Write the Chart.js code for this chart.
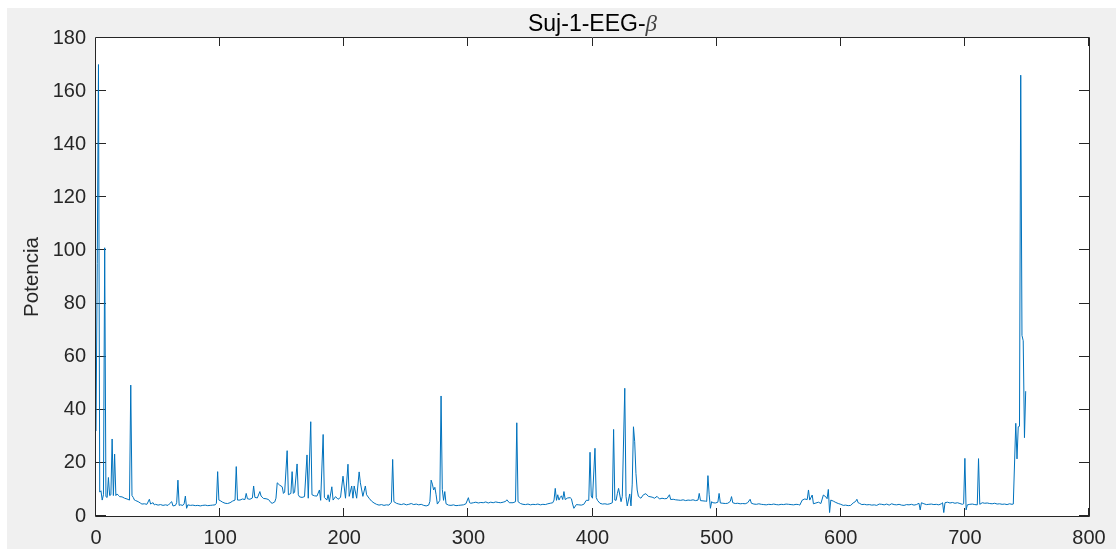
<!DOCTYPE html>
<html>
<head>
<meta charset="utf-8">
<script src="https://cdn.jsdelivr.net/npm/chart.js@4"></script>
<style>
html, body { margin: 0; padding: 0; background: #fff; }
#wrap { width: 1116px; height: 549px; }
</style>
</head>
<body>
<div id="wrap"><canvas id="chart" width="1116" height="549"></canvas></div>
<script>
// beta-band power per window, subject 1
const sampleIdx = [
	0, 1, 2, 3, 4, 5, 6, 7, 8, 9, 10, 11, 12, 13, 14, 15, 16, 17, 18, 19, 21, 23, 25, 27, 28, 29,
	30, 31, 32, 34, 36, 37, 39, 41, 43, 44, 45, 46, 47, 48, 50, 52, 54, 56, 58, 59, 61, 62, 64, 65,
	66, 67, 68, 70, 71, 72, 73, 74, 76, 78, 80, 82, 84, 86, 88, 90, 92, 94, 96, 97, 98, 99,
	100, 102, 104, 106, 108, 110, 112, 113, 114, 116, 118, 120, 121, 122, 124, 126, 127, 128, 130, 132, 133, 135, 137, 139,
	141, 142, 144, 145, 146, 148, 150, 151, 152, 154, 155, 157, 158, 159, 160, 162, 163, 164, 166, 168,
	170, 171, 173, 174, 176, 178, 180, 181, 183, 184, 186, 187, 188, 190, 191, 193, 195, 197, 199,
	201, 203, 204, 206, 207, 208, 210, 212, 213, 215, 217, 218, 220, 222, 224, 226, 228, 230, 232, 234, 236, 238, 239,
	240, 242, 244, 246, 248, 250, 252, 254, 256, 258, 260, 262, 264, 266, 268, 269,
	270, 271, 272, 273, 274, 275, 277, 278, 279, 280, 281, 282, 284, 286, 288, 290, 292, 294, 296, 298,
	300, 301, 302, 304, 306, 308, 310, 312, 314, 316, 318, 320, 322, 324, 326, 328, 330, 331, 333, 336, 338, 339,
	340, 342, 344, 346, 348, 350, 352, 354, 356, 358, 360, 362, 364, 366, 368, 369,
	370, 371, 372, 373, 374, 375, 376, 377, 378, 380, 382, 383, 384, 385, 387, 389, 391, 393, 395, 397, 398, 399,
	400, 402, 403, 404, 406, 408, 410, 412, 414, 416, 417, 418, 419, 420, 421, 423, 424, 426, 427, 428,
	430, 431, 432, 433, 434, 435, 436, 437, 439, 441, 443, 445, 448, 450, 452, 454, 456, 458, 460, 462, 463, 465, 467, 469,
	471, 473, 475, 477, 479, 481, 483, 485, 486, 487, 489, 491, 492, 493, 494, 495, 496, 497, 499,
	501, 502, 503, 505, 507, 509, 511, 512, 513, 515, 517, 519, 521, 523, 525, 527, 528,
	530, 532, 534, 536, 538, 540, 542, 544, 546, 548, 550, 552, 554, 556, 558, 560, 562, 564, 566, 567, 569,
	571, 573, 574, 575, 577, 578, 580, 582, 584, 586, 588, 589, 590, 591, 592, 594, 596, 598,
	600, 602, 604, 606, 608, 610, 612, 613, 614, 615, 617, 619, 621, 623, 625, 627, 629,
	631, 633, 635, 637, 639, 641, 643, 645, 647, 649, 651, 653, 655, 657, 659, 661, 663, 664, 665, 667, 669,
	671, 673, 675, 677, 679, 681, 682, 683, 684, 686, 688, 690, 692, 694, 696, 698, 699,
	700, 701, 702, 704, 706, 708, 710, 711, 712, 714, 716, 718, 720, 722, 724, 726, 728, 730, 732, 734, 736, 738, 739,
	741, 742, 743, 744, 745, 746, 747, 748, 749
];

const power = [
	32, 95, 170, 9, 9.5, 6, 8, 101, 7.3, 7, 14.5, 7.7, 8, 29, 7.7, 23.3, 7.7, 8.3, 7.8, 7.3, 7.2, 6.7, 6.4, 6, 49.3, 7.7,
	7, 6, 5.8, 5.4, 4.8, 4.5, 4.6, 4.4, 6.3, 4.5, 4.8, 5, 4.2, 4.4, 4.1, 4.3, 4, 4.2, 4, 4.5, 5.4, 3.8, 4, 5,
	13.5, 4, 4.2, 4, 4.6, 7.5, 2.9, 4.2, 4, 4.1, 3.9, 4, 3.8, 4, 4.1, 3.9, 4, 4.1, 4.2, 4.8, 16.7, 6,
	5.8, 5.2, 4.8, 4.7, 5, 5.6, 6, 18.6, 6, 6, 6.4, 6.2, 8.5, 6.5, 6.3, 6.8, 11.3, 7, 6.8, 9.2, 7.5, 6.6, 6.5, 6.2,
	5, 4.8, 5.3, 6.7, 12.5, 11.6, 11, 8.5, 9, 24.6, 8, 8.5, 16.7, 8.5, 9, 19.6, 8, 7.2, 7, 7.3,
	23, 6.7, 35.5, 8, 7.6, 7.5, 9.8, 5.9, 30.7, 7, 6, 8, 5.4, 11, 6, 7.3, 6.3, 7, 15,
	6.7, 19.5, 7.4, 11.3, 6.7, 11.3, 6.7, 16.6, 12.5, 7.4, 11.3, 8, 6.7, 5.6, 4.9, 4.4, 4.1, 4.3, 4, 4.2, 4.1, 5.2, 21.3,
	5.4, 4.8, 4.5, 4.3, 4.6, 4.2, 4.4, 4.7, 4.3, 4.5, 4.2, 4.4, 4, 3.8, 4.1, 5.5,
	13.5, 12, 9.8, 10.8, 8, 4.5, 5.9, 45.2, 10, 5.9, 9.2, 4.6, 4.1, 4, 4.2, 3.9, 4, 4.1, 4.2, 4.6,
	6.9, 5, 4.8, 5, 5.2, 4.9, 5.1, 5, 5.3, 4.9, 5.2, 5, 5.3, 5.1, 5, 5.2, 5.5, 6.1, 5, 5, 5.4, 35.1,
	5.4, 4.7, 4.4, 4.3, 4.5, 4.2, 4.4, 4.3, 4.5, 4.2, 4.4, 4.3, 4.6, 4.8, 5, 6,
	10.4, 5.9, 8, 6, 7, 7.6, 6.2, 9.2, 6.2, 6.8, 6.9, 6.5, 4.5, 2.9, 4.3, 4.2, 4.1, 4.4, 5.9, 5.9, 24, 7.5,
	6.7, 25.5, 7, 5.9, 4.8, 4.5, 4.6, 4.4, 4.6, 5, 32.6, 6, 5.9, 8.4, 10.4, 5.4, 7.4, 48.1, 7.4, 3.8,
	8.3, 3.8, 12, 33.6, 28, 16, 9.8, 7.4, 6.7, 8, 8.4, 7.4, 7.1, 6.7, 7.4, 6.4, 6.7, 6.5, 6.6, 8, 6.2, 6.3, 6.1, 6,
	5.9, 6.1, 5.8, 6, 5.9, 6.1, 5.8, 6, 8.5, 5.8, 5.7, 5.6, 5.5, 15.2, 8, 2.9, 5.4, 5, 4.9,
	5.2, 8.5, 4.9, 4.8, 4.7, 4.8, 5.5, 7.3, 5, 4.7, 4.8, 4.6, 4.7, 4.6, 5, 6.3, 4.8,
	4.5, 4.4, 4.6, 4.4, 4.3, 4.2, 4.4, 4.3, 4.5, 4.3, 4.2, 4.4, 4.3, 4.5, 4.4, 4.3, 4.2, 4.4, 4.3, 4.1, 6,
	6.4, 6.2, 9.8, 6, 7.9, 4.6, 4.9, 5.2, 4.7, 7.9, 7.2, 6.5, 10, 1.3, 6, 5.6, 5.1, 4.7,
	4.4, 4, 4.1, 3.9, 4, 4.9, 5.5, 6.3, 5, 4.8, 4.3, 4.4, 4.2, 4.3, 4.1, 4.2, 4,
	4.5, 4.4, 4.2, 4.5, 4.1, 4.6, 4.3, 4.2, 4.4, 4.1, 4, 4.3, 4.2, 4.4, 4.1, 4.3, 4.8, 2.3, 5, 4.6, 4.3,
	4.4, 4.5, 4.3, 4.4, 4.2, 4.6, 5, 1.3, 5, 5.2, 4.9, 5.1, 4.8, 5, 4.7, 4.4, 4.6,
	21.7, 2.3, 4.2, 4.4, 4.5, 4.3, 4.2, 21.6, 4.4, 5, 4.8, 4.9, 4.7, 4.6, 4.8, 4.5, 4.6, 4.4, 4.5, 4.3, 4.6, 4.4, 4.5,
	34.9, 21.5, 33.6, 33.8, 166, 68, 66, 29.5, 47
];

const xTicks = [0, 100, 200, 300, 400, 500, 600, 700, 800];
const yTicks = [0, 20, 40, 60, 80, 100, 120, 140, 160, 180];

const titleMain = 'Suj-1-EEG-';
const titleSymbol = 'β';
const yLabel = 'Potencia';

const lineColor = '#0072bd';
const axisColor = '#262626';

// figure panel, white axes area, box with inward ticks and the title
const matlabFrame = {
	id: 'matlabFrame',
	beforeDraw(chart) {
		const ctx = chart.ctx;
		const a = chart.chartArea;
		ctx.save();
		ctx.fillStyle = '#ffffff';
		ctx.fillRect(0, 0, chart.width, chart.height);
		ctx.fillStyle = '#f0f0f0';
		ctx.fillRect(7, 8, chart.width - 7, chart.height - 8);
		ctx.fillStyle = '#ffffff';
		ctx.fillRect(a.left, a.top, a.right - a.left, a.bottom - a.top);
		ctx.restore();
	},
	beforeDatasetsDraw(chart) {
		const ctx = chart.ctx;
		const a = chart.chartArea;
		const xs = chart.scales.x;
		const ys = chart.scales.y;
		ctx.save();
		ctx.strokeStyle = axisColor;
		ctx.lineWidth = 1;
		ctx.beginPath();
		ctx.rect(a.left - 0.5, a.top - 0.5, a.right - a.left + 1, a.bottom - a.top + 1);
		xTicks.forEach(v => {
			const px = Math.round(xs.getPixelForValue(v)) - 0.5;
			ctx.moveTo(px, a.bottom);
			ctx.lineTo(px, a.bottom - 8);
			ctx.moveTo(px, a.top);
			ctx.lineTo(px, a.top + 8);
		});
		yTicks.forEach(v => {
			const py = Math.round(ys.getPixelForValue(v)) - 0.5;
			ctx.moveTo(a.left, py);
			ctx.lineTo(a.left + 10, py);
			ctx.moveTo(a.right, py);
			ctx.lineTo(a.right - 10, py);
		});
		ctx.stroke();
		ctx.restore();
	},
	afterDraw(chart) {
		const ctx = chart.ctx;
		const a = chart.chartArea;
		ctx.save();
		ctx.textBaseline = 'alphabetic';
		const mainFont = '23px "Liberation Sans", Arial, sans-serif';
		const symFont = 'italic 23px "Liberation Serif", "Times New Roman", serif';
		ctx.font = mainFont;
		const w1 = ctx.measureText(titleMain).width;
		ctx.font = symFont;
		const w2 = ctx.measureText(titleSymbol).width;
		const x0 = (a.left + a.right) / 2 - (w1 + w2) / 2;
		const baseY = 31;
		ctx.font = mainFont;
		ctx.fillStyle = '#000000';
		ctx.fillText(titleMain, x0, baseY);
		ctx.font = symFont;
		ctx.fillStyle = '#444444';
		ctx.fillText(titleSymbol, x0 + w1, baseY);
		ctx.restore();
	}
};

new Chart(document.getElementById('chart'), {
	type: 'line',
	data: {
		datasets: [
			{
				data: sampleIdx.map((s, i) => ({x: s, y: power[i]})),
				borderColor: lineColor,
				backgroundColor: lineColor,
				borderWidth: 1,
				pointRadius: 0,
				tension: 0,
				fill: false
			}
		]
	},
	options: {
		responsive: false,
		animation: false,
		layout: {
			padding: {top: 38, right: 27, left: 0, bottom: 0}
		},
		scales: {
			x: {
				type: 'linear',
				min: 0,
				max: 800,
				afterFit: scale => { scale.height = 33; },
				afterBuildTicks: scale => { scale.ticks = xTicks.map(v => ({value: v})); },
				grid: {display: false, drawTicks: false},
				border: {display: false},
				ticks: {
					padding: 10,
					color: axisColor,
					maxRotation: 0,
					font: {family: '"Liberation Sans", Arial, sans-serif', size: 20}
				}
			},
			y: {
				min: 0,
				max: 180,
				afterFit: scale => { scale.width = 96; },
				afterBuildTicks: scale => { scale.ticks = yTicks.map(v => ({value: v})); },
				grid: {display: false, drawTicks: false},
				border: {display: false},
				ticks: {
					padding: 10,
					color: axisColor,
					font: {family: '"Liberation Sans", Arial, sans-serif', size: 20}
				},
				title: {
					display: true,
					text: yLabel,
					color: axisColor,
					padding: {top: 20, bottom: 0},
					font: {family: '"Liberation Sans", Arial, sans-serif', size: 20.5}
				}
			}
		},
		plugins: {
			legend: {display: false},
			tooltip: {enabled: false}
		}
	},
	plugins: [matlabFrame]
});
</script>
</body>
</html>
